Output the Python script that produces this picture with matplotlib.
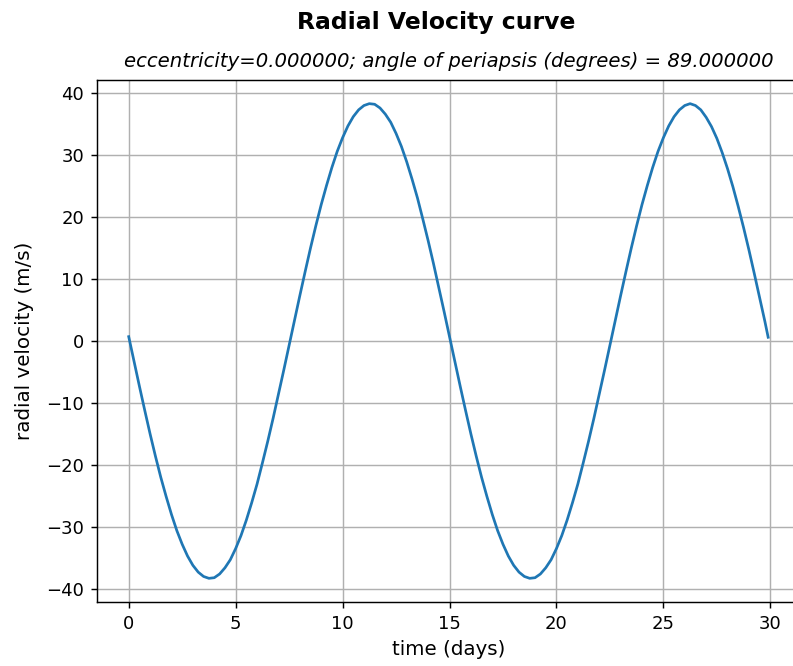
import numpy as np
import matplotlib
matplotlib.use("Agg")
import matplotlib.pyplot as plt

# first half of an orbit: radial velocity (m/s), every 0.25 day
half_cycle_rv = [0.7, -3.3, -7.3, -11.2, -15.0, -18.6, -22.0, -25.1, -28.0, -30.6,
                 -32.8, -34.7, -36.2, -37.3, -38.0, -38.3, -38.2, -37.6, -36.6, -35.3,
                 -33.5, -31.4, -28.9, -26.1, -23.1, -19.7, -16.2, -12.5, -8.6, -4.7]
cycle_rv = half_cycle_rv + [-v for v in half_cycle_rv]

# last stretch of the second orbit (26.25 .. 29.75 d) plus the final sample at 29.9 d
tail_rv = [38.3, 38.0, 37.3, 36.1, 34.6, 32.7, 30.4, 27.8, 24.9, 21.7, 18.3, 14.7,
           10.9, 7.0, 3.1]
end_rv = 0.6

time_days = list(np.arange(0, 30, 0.25)) + [29.9]
radial_velocity = cycle_rv + cycle_rv[:len(cycle_rv) - len(tail_rv)] + tail_rv + [end_rv]

eccentricity = 0.0
periapsis_deg = 89.0

fig = plt.figure(figsize=(793 / 130, 666 / 130), dpi=130)
ax = fig.add_axes([0.122, 0.096, 0.887, 0.784])

ax.plot(time_days, radial_velocity, color="#1f77b4")
ax.grid(True)
ax.set_xlabel("time (days)", fontsize=11)
ax.set_ylabel("radial velocity (m/s)", fontsize=11, labelpad=6.5)
ax.set_title("eccentricity=%f; angle of periapsis (degrees) = %f" % (eccentricity, periapsis_deg),
             fontsize=10.9, style="italic", pad=7.2)
fig.text(0.5505, 1 - 29 / 666, "Radial Velocity curve", fontsize=13, fontweight="bold",
         ha="center", va="baseline")

fig.savefig("out.png", dpi=130)
